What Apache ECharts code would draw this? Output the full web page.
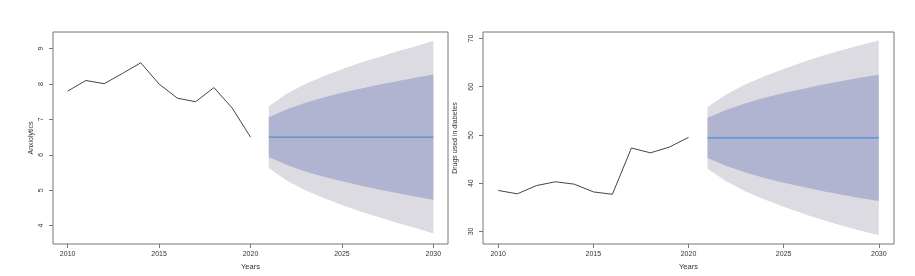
<!DOCTYPE html>
<html><head><meta charset="utf-8">
<script src="https://cdn.jsdelivr.net/npm/echarts@6/dist/echarts.min.js"></script>
<style>html,body{margin:0;padding:0;background:#fff}#c{width:915px;height:276px}</style>
</head><body><div id="c"></div>
<script>
// ---- data ----
const histYears = [2010,2011,2012,2013,2014,2015,2016,2017,2018,2019,2020];
const fcYears = [2021,2022,2023,2024,2025,2026,2027,2028,2029,2030];
const xTicks = [2010,2015,2020,2025,2030];

const anxHist = [7.8,8.1,8.01,8.3,8.6,8.0,7.6,7.5,7.9,7.32,6.5];
const anxMean = [6.5,6.5,6.5,6.5,6.5,6.5,6.5,6.5,6.5,6.5];
const anxLo80 = [5.94,5.71,5.53,5.38,5.25,5.13,5.02,4.92,4.82,4.73];
const anxHi80 = [7.06,7.29,7.47,7.62,7.75,7.87,7.98,8.08,8.18,8.27];
const anxLo95 = [5.63,5.27,5.00,4.78,4.58,4.40,4.24,4.08,3.94,3.78];
const anxHi95 = [7.37,7.73,8.00,8.22,8.42,8.60,8.76,8.92,9.06,9.22];
const anxTicks = [4,5,6,7,8,9];

const diaHist = [38.5,37.8,39.5,40.3,39.8,38.2,37.7,47.3,46.3,47.5,49.5];
const diaMean = [49.4,49.4,49.4,49.4,49.4,49.4,49.4,49.4,49.4,49.4];
const diaLo80 = [45.25,43.55,42.2,41.1,40.1,39.25,38.4,37.65,36.95,36.3];
const diaHi80 = [53.55,55.25,56.6,57.7,58.7,59.55,60.4,61.15,61.85,62.5];
const diaLo95 = [43.0,40.35,38.3,36.6,35.1,33.7,32.45,31.3,30.2,29.2];
const diaHi95 = [55.8,58.45,60.5,62.2,63.7,65.1,66.35,67.5,68.6,69.6];
const diaTicks = [30,40,50,60,70];

const GREY = '#DBDBE1', BLUE = '#B0B4D1', LINE = '#4A8FD8';
const FONT = 'Liberation Sans';

function pairs(xs, ys){ return xs.map((x,i)=>[x, ys[i]]); }

function band(idx, lo, hi, color, z){
  const rows = fcYears.map((x,i)=>[x, lo[i], hi[i]]);
  return {
    type:'custom', xAxisIndex:idx, yAxisIndex:idx, silent:true, animation:false, z:z,
    data: rows,
    encode:{x:0, y:[1,2]},
    renderItem: function(params, api){
      if (params.dataIndex !== 0) return null;
      const pts = [];
      rows.forEach(r=>pts.push(api.coord([r[0], r[2]])));
      rows.slice().reverse().forEach(r=>pts.push(api.coord([r[0], r[1]])));
      return {type:'polygon', shape:{points:pts}, style:{fill:color, stroke:null}};
    }
  };
}

function panel(idx, hist, mean, lo80, hi80, lo95, hi95){
  const common = {xAxisIndex: idx, yAxisIndex: idx, type:'line', showSymbol:false, symbol:'none', silent:true, animation:false};
  return [
    band(idx, lo95, hi95, GREY, 1),
    band(idx, lo80, hi80, BLUE, 2),
    Object.assign({}, common, {data: pairs(fcYears, mean), lineStyle:{width:1.3, color:LINE}, z:5}),
    Object.assign({}, common, {data: pairs(histYears, hist), lineStyle:{width:1, color:'#444'}, z:5})
  ];
}

function xAxis(idx){
  return {
    type:'value', gridIndex: idx, min:2009.2, max:2030.8,
    name:'Years', nameLocation:'middle', nameGap:19,
    nameTextStyle:{fontFamily:FONT, fontSize:7.5, color:'#333'},
    splitLine:{show:false}, axisLine:{show:false},
    axisTick:{show:true, inside:false, length:4, lineStyle:{color:'#777'}, customValues:xTicks},
    axisLabel:{fontFamily:FONT, fontSize:7, color:'#333', margin:7, customValues:xTicks, formatter:v=>String(v)}
  };
}
function yAxis(idx, min, max, ticks, name, gap){
  return {
    type:'value', gridIndex: idx, min:min, max:max,
    name:name, nameLocation:'middle', nameRotate:90, nameGap:gap,
    nameTextStyle:{fontFamily:FONT, fontSize:7, color:'#333'},
    splitLine:{show:false}, axisLine:{show:false},
    axisTick:{show:true, inside:false, length:4, lineStyle:{color:'#777'}, customValues:ticks},
    axisLabel:{fontFamily:FONT, fontSize:7, color:'#333', margin:8, rotate:90, customValues:ticks, formatter:v=>String(v)}
  };
}

const chart = echarts.init(document.getElementById('c'), null, {renderer:'canvas'});
chart.setOption({
  animation:false,
  grid:[
    {left:53, top:32, width:395, height:216, show:true, borderColor:'#777', borderWidth:1, backgroundColor:'transparent'},
    {left:483, top:32, width:411, height:215, show:true, borderColor:'#777', borderWidth:1, backgroundColor:'transparent'}
  ],
  xAxis:[xAxis(0), xAxis(1)],
  yAxis:[
    yAxis(0, 3.48, 9.47, anxTicks, 'Anxiolytics', 18),
    yAxis(1, 27.4, 71.35, diaTicks, 'Drugs used in diabetes', 24)
  ],
  series:[].concat(
    panel(0, anxHist, anxMean, anxLo80, anxHi80, anxLo95, anxHi95),
    panel(1, diaHist, diaMean, diaLo80, diaHi80, diaLo95, diaHi95)
  )
});
</script></body></html>
